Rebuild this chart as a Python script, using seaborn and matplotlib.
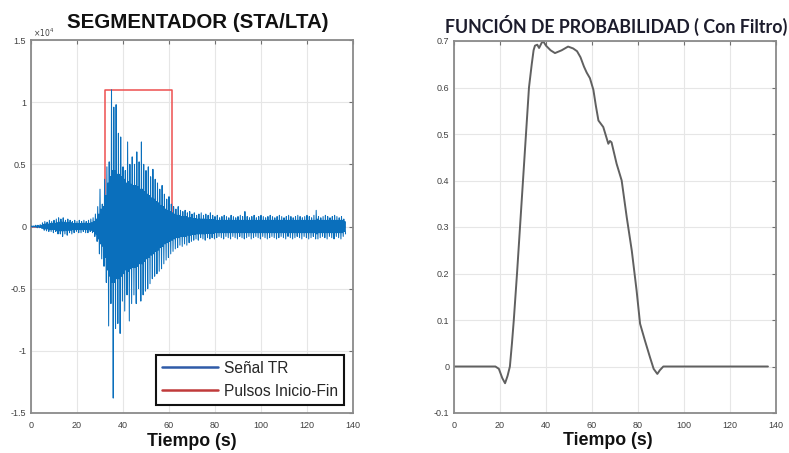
import numpy as np
import pandas as pd
import matplotlib
matplotlib.use("Agg")
import matplotlib.pyplot as plt
from matplotlib.ticker import FuncFormatter, FixedLocator
import seaborn as sns

# ---------------------------------------------------------------- data
# Seismic trace (units of 1e4 counts), one entry per second:
# peak upward / downward excursion and the typical amplitude of the dense core
sec = list(range(137))
sig_hi = [0.005, 0.005, 0.01, 0.01, 0.015, 0.03, 0.04, 0.035, 0.05, 0.04,
          0.05, 0.06, 0.07, 0.06, 0.07, 0.05, 0.06, 0.05, 0.04, 0.05,
          0.04, 0.05, 0.04, 0.05, 0.04, 0.05, 0.06, 0.07, 0.10, 0.16,
          0.30, 0.18, 0.38, 0.48, 0.52, 1.10, 0.96, 0.98, 0.75, 0.72,
          0.48, 0.45, 0.68, 0.50, 0.56, 0.50, 0.60, 0.52, 0.68, 0.50,
          0.45, 0.48, 0.40, 0.46, 0.38, 0.35, 0.30, 0.33, 0.26, 0.22,
          0.24, 0.18, 0.16, 0.14, 0.16, 0.13, 0.12, 0.13, 0.11, 0.12,
          0.10, 0.11, 0.09, 0.10, 0.11, 0.09, 0.10, 0.09, 0.11, 0.09,
          0.08, 0.09, 0.07, 0.08, 0.09, 0.08, 0.07, 0.09, 0.08, 0.07,
          0.08, 0.09, 0.08, 0.12, 0.08, 0.07, 0.08, 0.09, 0.07, 0.08,
          0.09, 0.08, 0.07, 0.08, 0.09, 0.08, 0.07, 0.08, 0.09, 0.08,
          0.07, 0.08, 0.09, 0.08, 0.07, 0.08, 0.09, 0.08, 0.07, 0.08,
          0.09, 0.08, 0.07, 0.09, 0.13, 0.08, 0.07, 0.08, 0.09, 0.08,
          0.07, 0.08, 0.09, 0.08, 0.07, 0.08, 0.06]
sig_lo = [-0.005, -0.005, -0.01, -0.01, -0.015, -0.03, -0.035, -0.04, -0.04, -0.05,
          -0.04, -0.06, -0.06, -0.08, -0.06, -0.07, -0.05, -0.06, -0.05, -0.04,
          -0.05, -0.05, -0.04, -0.05, -0.05, -0.04, -0.05, -0.08, -0.12, -0.22,
          -0.26, -0.32, -0.45, -0.80, -0.62, -1.38, -0.82, -0.78, -0.86, -0.60,
          -0.68, -0.55, -0.76, -0.62, -0.55, -0.62, -0.50, -0.60, -0.55, -0.52,
          -0.50, -0.46, -0.42, -0.40, -0.38, -0.36, -0.34, -0.30, -0.27, -0.25,
          -0.22, -0.20, -0.18, -0.17, -0.15, -0.16, -0.14, -0.15, -0.13, -0.12,
          -0.11, -0.10, -0.11, -0.09, -0.10, -0.11, -0.09, -0.10, -0.09, -0.10,
          -0.09, -0.08, -0.09, -0.10, -0.08, -0.09, -0.10, -0.08, -0.09, -0.10,
          -0.08, -0.09, -0.10, -0.09, -0.08, -0.10, -0.09, -0.08, -0.09, -0.10,
          -0.08, -0.09, -0.10, -0.09, -0.08, -0.09, -0.10, -0.09, -0.08, -0.09,
          -0.10, -0.08, -0.09, -0.10, -0.09, -0.08, -0.09, -0.10, -0.08, -0.09,
          -0.10, -0.09, -0.08, -0.10, -0.10, -0.09, -0.08, -0.09, -0.10, -0.08,
          -0.09, -0.10, -0.08, -0.09, -0.10, -0.08, -0.06]
sig_core = [0.003, 0.003, 0.005, 0.005, 0.008, 0.015, 0.02, 0.02, 0.025, 0.025,
            0.025, 0.03, 0.035, 0.035, 0.035, 0.03, 0.03, 0.03, 0.025, 0.025,
            0.025, 0.025, 0.025, 0.025, 0.025, 0.025, 0.03, 0.04, 0.06, 0.10,
            0.14, 0.16, 0.25, 0.35, 0.40, 0.45, 0.45, 0.42, 0.42, 0.40,
            0.38, 0.35, 0.36, 0.34, 0.33, 0.33, 0.32, 0.30, 0.30, 0.28,
            0.26, 0.25, 0.23, 0.22, 0.20, 0.19, 0.17, 0.16, 0.14, 0.13,
            0.12, 0.11, 0.10, 0.09, 0.09, 0.08, 0.08, 0.08, 0.07, 0.07,
            0.065, 0.065, 0.06, 0.06, 0.06, 0.06, 0.055, 0.055, 0.055, 0.055,
            0.05, 0.05, 0.05, 0.05, 0.05, 0.05, 0.05, 0.05, 0.05, 0.05,
            0.05, 0.05, 0.05, 0.05, 0.05, 0.05, 0.05, 0.05, 0.05, 0.05,
            0.05, 0.05, 0.05, 0.05, 0.05, 0.05, 0.05, 0.05, 0.05, 0.05,
            0.05, 0.05, 0.05, 0.05, 0.05, 0.05, 0.05, 0.05, 0.05, 0.05,
            0.05, 0.05, 0.05, 0.05, 0.06, 0.05, 0.05, 0.05, 0.05, 0.05,
            0.05, 0.05, 0.05, 0.05, 0.05, 0.05, 0.04]

# Start/end pulse produced by the STA/LTA trigger (units of 1e4)
pulse_t = [0, 32.2, 32.2, 61.4, 61.4, 136.5]
pulse_v = [0, 0, 1.1, 1.1, 0, 0]

# Filtered probability function
prob_t = [0, 18, 19.5, 21, 22.2, 23.3, 24.3, 25.2, 26, 27.4, 28.7, 30.0,
          31.3, 32.6, 33.8, 34.6, 35.2, 36.2, 37.0, 38.0, 38.7, 40.0, 42.0,
          43.9, 46.8, 49.6, 51.8, 53.5, 55.0, 56.5, 57.7, 59.1, 60.6, 61.7,
          62.8, 64.9, 67.1, 67.8, 68.5, 70.7, 72.9, 75.1, 77.3, 79.4, 80.9,
          83.0, 85.2, 86.8, 88.4, 89.5, 91.0, 136.5]
prob_v = [0, 0, -0.005, -0.025, -0.036, -0.02, 0, 0.05, 0.1, 0.2, 0.3, 0.4,
          0.5, 0.6, 0.65, 0.68, 0.69, 0.692, 0.685, 0.695, 0.70, 0.69, 0.68,
          0.674, 0.68, 0.688, 0.684, 0.678, 0.665, 0.645, 0.632, 0.620, 0.595,
          0.56, 0.529, 0.515, 0.479, 0.485, 0.482, 0.436, 0.40, 0.321, 0.249,
          0.163, 0.092, 0.056, 0.020, -0.005, -0.016, -0.008, 0.0, 0.0]

x_ticks = [0, 20, 40, 60, 80, 100, 120, 140]
left_yticks = [-1.5, -1, -0.5, 0, 0.5, 1, 1.5]
right_yticks = [-0.1, 0, 0.1, 0.2, 0.3, 0.4, 0.5, 0.6, 0.7]

# ---------------------------------------------------------------- style
sns.set_theme(style="white")
plt.rcParams["font.family"] = ["Liberation Sans", "DejaVu Sans"]

# within each second the trace swings: peak up, core down, core up, peak down
s = np.asarray(sec, dtype=float)
core = np.asarray(sig_core)
trace = pd.DataFrame({
    "t": np.ravel(np.column_stack([s, s + 0.25, s + 0.5, s + 0.75])),
    "v": np.ravel(np.column_stack([sig_hi, -core, core, sig_lo])),
})
pulse = pd.DataFrame({"t": pulse_t, "v": pulse_v})
prob = pd.DataFrame({"t": prob_t, "v": prob_v})

W, H = 789, 453
fig = plt.figure(figsize=(W / 100, H / 100), dpi=100)
ax1 = fig.add_axes([31 / W, 1 - 413 / H, 322 / W, 373 / H])
ax2 = fig.add_axes([454 / W, 1 - 413 / H, 322 / W, 372 / H])

fmt = FuncFormatter(lambda v, p: f"{v:g}")


def matlab_axes(ax, yticks):
    ax.set_xlim(0, 140)
    ax.set_ylim(yticks[0], yticks[-1])
    ax.xaxis.set_major_locator(FixedLocator(x_ticks))
    ax.yaxis.set_major_locator(FixedLocator(yticks))
    ax.xaxis.set_major_formatter(fmt)
    ax.yaxis.set_major_formatter(fmt)
    ax.grid(True, color="#e6e6e6", lw=0.8)
    ax.set_axisbelow(True)
    for sp in ax.spines.values():
        sp.set_visible(True)
        sp.set_color("#8a8a8a")
        sp.set_linewidth(1.3)
    ax.tick_params(direction="in", length=3, width=0.8, color="#707070",
                   top=True, right=True, labelsize=6.5, labelcolor="#404040")
    ax.tick_params(axis="x", pad=5.5)
    ax.tick_params(axis="y", pad=3.5)
    ax.set_ylabel("")


# ---------------------------------------------------------------- left panel
sns.lineplot(data=pulse, x="t", y="v", ax=ax1, color="#EE5050", lw=1.1,
             sort=False, estimator=None, label="Pulsos Inicio-Fin", zorder=2)
sns.lineplot(data=trace, x="t", y="v", ax=ax1, color="#0a6fbc", lw=0.75,
             sort=False, estimator=None, label="Señal TR", zorder=3)
matlab_axes(ax1, left_yticks)
ax1.text(0.005, 1.004, r"$\times10^{4}$", transform=ax1.transAxes,
         fontsize=5.5, color="#404040", ha="left", va="bottom")
ax1.set_title("SEGMENTADOR (STA/LTA)", fontsize=14.8, fontweight="bold",
              color="#111111", x=0.517, y=1.0, pad=8.6)
ax1.set_xlabel("Tiempo (s)", fontsize=12.8, fontweight="bold", color="#111111",
               labelpad=2.5)

h, l = ax1.get_legend_handles_labels()
order = [l.index("Señal TR"), l.index("Pulsos Inicio-Fin")]
leg_colors = ["#2F5BA8", "#C03A3A"]
leg = ax1.legend([h[i] for i in order], [l[i] for i in order],
                 loc="lower right", bbox_to_anchor=(0.972, 0.022),
                 fontsize=11.2, handlelength=3.6, handletextpad=0.35,
                 labelspacing=0.5, borderpad=0.4, borderaxespad=0.0,
                 frameon=True, fancybox=False, framealpha=1)
leg.get_frame().set_edgecolor("#111111")
leg.get_frame().set_linewidth(1.5)
for line, c in zip(leg.get_lines(), leg_colors):
    line.set_color(c)
    line.set_linewidth(1.8)

# ---------------------------------------------------------------- right panel
sns.lineplot(data=prob, x="t", y="v", ax=ax2, color="#606060", lw=1.4,
             sort=False, estimator=None)
matlab_axes(ax2, right_yticks)
ax2.set_title("FUNCIÓN DE PROBABILIDAD ( Con Filtro)", fontsize=12.8,
              fontweight="bold", color="#1c1c2c", family=["Lato", "DejaVu Sans"],
              x=0.505, y=1.0, pad=5.8)
ax2.set_xlabel("Tiempo (s)", fontsize=12.8, fontweight="bold", color="#111111",
               labelpad=2.5)
ax2.xaxis.set_label_coords(0.477, -0.05)
ax2.xaxis.label.set_va("top")

fig.savefig("out.png", dpi=100)
